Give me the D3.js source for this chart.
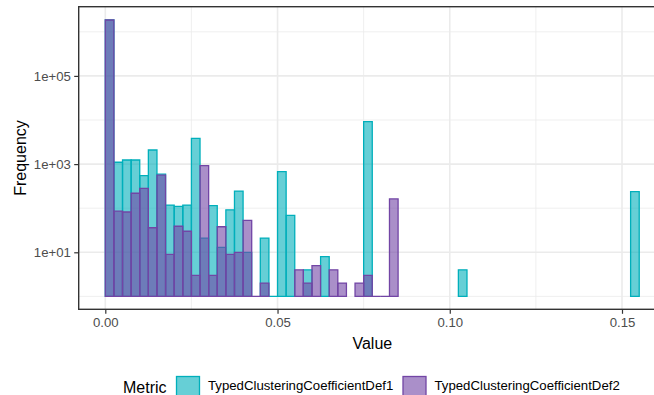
<!DOCTYPE html>
<html>
<head>
<meta charset="utf-8">
<script src="https://cdn.jsdelivr.net/npm/d3@7"></script>
<style>
  html, body { margin: 0; padding: 0; background: #ffffff; }
  svg { display: block; font-family: "Liberation Sans", Arial, sans-serif; }
</style>
</head>
<body>
<svg id="chart" width="654" height="395"></svg>
<script>
// Histogram bins: fixed width, first bin starts at 0
const binWidth = 0.0025;

// Counts per bin for each metric (0 = empty bin, not drawn)
const def1Counts = [
  1850000, 1100, 1240, 1240, 546, 2090, 590, 118, 110, 118,
  3850, 21, 114, 13, 92, 245, 10, 0, 21, 1,
  673, 69, 0, 4, 0, 8, 0, 0, 0, 0,
  9150, 0, 0, 0, 0, 0, 0, 0, 0, 0,
  0, 4, 0, 0, 0, 0, 0, 0, 0, 0,
  0, 0, 0, 0, 0, 0, 0, 0, 0, 0,
  0, 237
];
const def2Counts = [
  1850000, 86, 82, 218, 283, 36, 560, 9, 39, 30,
  3, 920, 3, 38, 9, 10, 53, 1, 2, 0,
  0, 0, 4, 2, 5, 0, 4, 2, 0, 2,
  3, 1, 1, 162, 0, 0, 0, 0, 0, 0,
  0, 0, 0, 0, 0, 0, 0, 0, 0, 0,
  0, 0, 0, 0, 0, 0, 0, 0, 0, 0,
  0, 0
];

const seriesNames = ["TypedClusteringCoefficientDef1", "TypedClusteringCoefficientDef2"];
const seriesColors = ["#00AFBB", "#7245A5"];
const legendTitle = "Metric";

const xTicks = [0, 0.05, 0.10, 0.15];
const xTickLabels = ["0.00", "0.05", "0.10", "0.15"];
const xMinor = [0.025, 0.075, 0.125, 0.175];
const yTicks = [1e1, 1e3, 1e5];
const yTickLabels = ["1e+01", "1e+03", "1e+05"];
const yMinor = [1e0, 1e2, 1e4, 1e6];

// Panel geometry
const panel = { left: 78.7, top: 6.7, right: 666, bottom: 309.3 };

const x = d3.scaleLinear().domain([0, 0.15]).range([105.3, 622]);
const y = d3.scaleLog().domain([1, 1e6]).range([296.4, 31.8]);

const svg = d3.select("#chart");

svg.append("defs").append("clipPath").attr("id", "panel-clip")
  .append("rect")
  .attr("x", panel.left).attr("y", panel.top)
  .attr("width", panel.right - panel.left)
  .attr("height", panel.bottom - panel.top);

const gridColor = "#EBEBEB";
const grid = svg.append("g").attr("clip-path", "url(#panel-clip)");

// minor grid
grid.selectAll("line.xminor").data(xMinor).join("line")
  .attr("x1", d => x(d)).attr("x2", d => x(d))
  .attr("y1", panel.top).attr("y2", panel.bottom)
  .attr("stroke", gridColor).attr("stroke-width", 0.8);
grid.selectAll("line.yminor").data(yMinor).join("line")
  .attr("x1", panel.left).attr("x2", panel.right)
  .attr("y1", d => y(d)).attr("y2", d => y(d))
  .attr("stroke", gridColor).attr("stroke-width", 0.8);
// major grid
grid.selectAll("line.xmajor").data(xTicks).join("line")
  .attr("x1", d => x(d)).attr("x2", d => x(d))
  .attr("y1", panel.top).attr("y2", panel.bottom)
  .attr("stroke", gridColor).attr("stroke-width", 1.6);
grid.selectAll("line.ymajor").data(yTicks).join("line")
  .attr("x1", panel.left).attr("x2", panel.right)
  .attr("y1", d => y(d)).attr("y2", d => y(d))
  .attr("stroke", gridColor).attr("stroke-width", 1.6);

// Bars: one layer per metric, second metric drawn over the first
const bars = svg.append("g").attr("clip-path", "url(#panel-clip)");
[def1Counts, def2Counts].forEach((counts, si) => {
  const data = counts.map((c, i) => ({ x0: i * binWidth, x1: (i + 1) * binWidth, count: c }))
    .filter(d => d.count > 0);
  bars.append("g").selectAll("path").data(data).join("path")
    .attr("d", d => {
      const p = d3.path();
      p.moveTo(x(d.x0), y(1));
      p.lineTo(x(d.x0), y(d.count));
      p.lineTo(x(d.x1), y(d.count));
      p.lineTo(x(d.x1), y(1));
      p.closePath();
      return p.toString();
    })
    .attr("fill", seriesColors[si])
    .attr("fill-opacity", 0.6)
    .attr("stroke", seriesColors[si])
    .attr("stroke-width", 1.3);
});

// Panel border
svg.append("rect")
  .attr("x", panel.left).attr("y", panel.top)
  .attr("width", panel.right - panel.left)
  .attr("height", panel.bottom - panel.top)
  .attr("fill", "none").attr("stroke", "#333333").attr("stroke-width", 1.4);

// Axes
const xAxis = svg.append("g").attr("transform", `translate(0,${panel.bottom})`)
  .call(d3.axisBottom(x).tickValues(xTicks)
    .tickFormat((d, i) => xTickLabels[i]).tickSize(4.5).tickPadding(3.5));
const yAxis = svg.append("g").attr("transform", `translate(${panel.left},0)`)
  .call(d3.axisLeft(y).tickValues(yTicks)
    .tickFormat((d, i) => yTickLabels[i]).tickSize(4.5).tickPadding(3.3));
[xAxis, yAxis].forEach(g => {
  g.select(".domain").remove();
  g.selectAll(".tick line").attr("stroke", "#333333").attr("stroke-width", 1.2);
  g.selectAll(".tick text").attr("fill", "#4D4D4D")
    .style("font-size", "13.2px").style("font-family", "'Liberation Sans', Arial, sans-serif");
});

// Axis titles
svg.append("text")
  .attr("x", (panel.left + panel.right) / 2).attr("y", 349)
  .attr("text-anchor", "middle").attr("fill", "#000")
  .style("font-size", "16px").text("Value");
svg.append("text")
  .attr("transform", `translate(26,${(panel.top + panel.bottom) / 2}) rotate(-90)`)
  .attr("text-anchor", "middle").attr("fill", "#000")
  .style("font-size", "16px").text("Frequency");

// Legend
const legend = svg.append("g");
legend.append("text").attr("x", 123).attr("y", 393)
  .attr("fill", "#000").style("font-size", "16px").text(legendTitle);
const keyX = [176.5, 403];
seriesNames.forEach((name, i) => {
  legend.append("rect")
    .attr("x", keyX[i]).attr("y", 376.5)
    .attr("width", 23).attr("height", 23)
    .attr("fill", seriesColors[i]).attr("fill-opacity", 0.6)
    .attr("stroke", seriesColors[i]).attr("stroke-width", 1.3);
  legend.append("text")
    .attr("x", keyX[i] + 31.5).attr("y", 390)
    .attr("fill", "#000").style("font-size", "13.2px").text(name);
});
</script>
</body>
</html>
